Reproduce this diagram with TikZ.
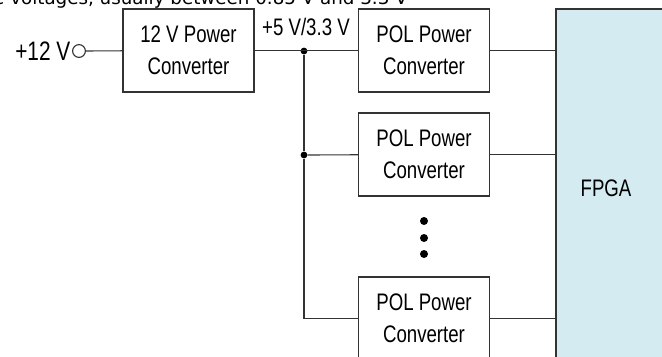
\documentclass[tikz,border=0pt]{standalone}
\usepackage{fontspec}
\setmainfont{Liberation Sans}[FakeStretch=0.78]
\newfontfamily\capfont{DejaVu Sans}
\usetikzlibrary{positioning}
\definecolor{fpgablue}{HTML}{D4EBF2}
\definecolor{wire}{HTML}{333333}

\tikzset{
  conv/.style={draw=wire, line width=0.8pt, fill=white, minimum width=3.275cm,
    minimum height=2.075cm, align=center, inner sep=0pt,
    font=\fontsize{17}{22.7}\selectfont},
  bus/.style={draw=wire, line width=0.8pt},
  jdot/.style={circle, fill=black, inner sep=0pt, minimum size=0.17cm},
  vdot/.style={circle, fill=black, inner sep=0pt, minimum size=0.2cm},
  lbl/.style={font=\fontsize{17}{20}\selectfont, inner sep=0pt},
}

\begin{document}
\begin{tikzpicture}[x=0.025cm,y=-0.025cm]
\useasboundingbox (0,0) rectangle (662,356);
\begin{scope}
\clip (0,0) rectangle (662,356);

% caption line cut off at the top
\node[font=\capfont\fontsize{13}{13}\selectfont, anchor=base east, inner sep=0pt]
  (cap) at (408,4.5) {e voltages, usually between 0.85 V and 3.3 V};

% FPGA
\node[draw=wire, line width=0.8pt, fill=fpgablue, minimum width=4.1cm,
  minimum height=10.275cm, inner sep=0pt] (fpga) at (638,214.5) {};
\node[lbl] (fpgalbl) at (606,188) {FPGA};

% input and converters
\node[circle, draw=wire, line width=0.8pt, minimum size=0.32cm, inner sep=0pt] (in) at (79,51) {};
\node[lbl, font=\fontsize{19}{22}\selectfont, left=1pt of in] (inlbl) {+12 V};
\node[conv] (conv12) at (188.5,50.5) {12 V Power\\Converter};
\node[conv] (pol1) at (424,50.5) {POL Power\\Converter};
\node[conv] (pol2) at (424,154.5) {POL Power\\Converter};
\node[conv] (pol3) at (424,318.5) {POL Power\\Converter};
\node[lbl] (buslbl) at (306,27) {+5 V/3.3 V};

% bus
\node[jdot] (j1) at (304,51) {};
\node[jdot] (j2) at (304,155) {};
\draw[bus] (in) -- (conv12);
\draw[bus] (conv12) -- (pol1);
\draw[bus] (j1) -- (j2) |- (pol3);
\draw[bus] (j2) -- (pol2);
\foreach \p in {pol1,pol2,pol3}
  \draw[bus] (\p) -- (\p -| fpga.west);

% more converters
\foreach \y [count=\i] in {221,238,254}
  \node[vdot] (vd\i) at (424,\y) {};
\end{scope}
\end{tikzpicture}
\end{document}
